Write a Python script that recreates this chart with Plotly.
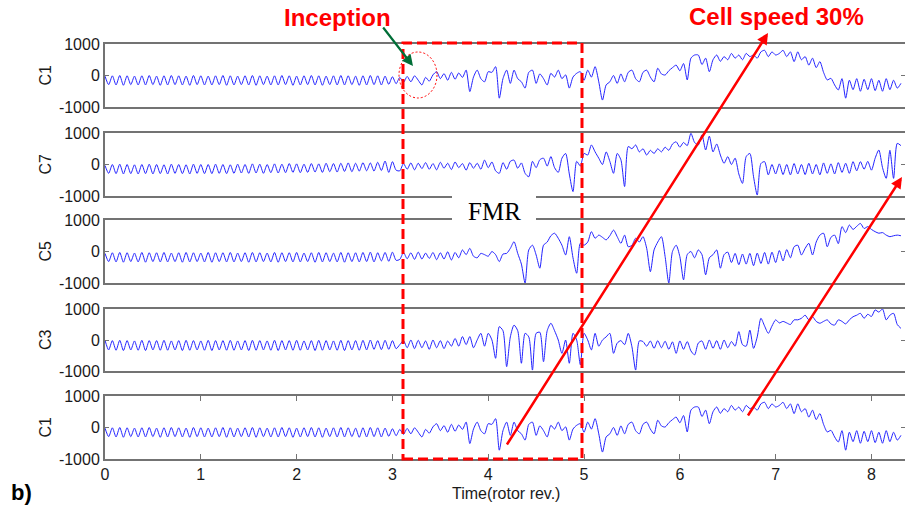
import numpy as np
import plotly.graph_objects as go

W, H = 905, 506

# ---------------- data (one sample per half cycle) -------------
samples_per_rev = 26

c1_reg = [-20,-290,-10,-300,0,-310,-10,-290,-20,-300,
          -10,-300,0,-290,-20,-310,-10,-300,0,-290,
          -10,-300,-20,-310,0,-290,-10,-300,-20,-300,
          -10,-290,0,-310,-10,-300,-20,-290,-10,-300,
          0,-310,-10,-290,-20,-300,-10,-300,0,-290,
          -10,-310,-20,-300,-10,-290,0,-300,-10,-310,
          -20,-290,-10,-300,0,-300,-10,-290,-20,-310,
          -10,-300,0,-290,-10,-300,-20,-280,-40,-260]
c1_irr = [-60,-220,-30,-200,-10,-150,-300,-60,-180,20,
          120,-100,60,-150,100,-120,80,-60,170,-510,
          -50,170,-100,-200,120,100,280,-720,-100,170,
          -250,170,-100,-200,-400,100,170,-250,50,-100,
          -300,70,-50,170,-100,20,-400,-50,70,120,
          -150,170,-50,280,-200,-780,-300,-200,0,-250,
          50,-200,100,170,-100,-200,100,170,-50,-200,
          230,50,15,150,250,330,150,380,-140,550,
          650,650,350,550,120,500,650,450,600,500,
          700,550,650,500,700,600,650,550,750,800,
          600,750,650,700,800,600,750,440,750,500,
          600,330,550,250,440,100,-140,-90,-300,-460,
          -100,-720,-150,-450,-100,-500,-120,-450,-100,-480,
          -150,-500,-100,-450,-150,-400,-250]

c7_reg = [-30,-280,0,-290,10,-300,0,-290,-10,-300,
          0,-290,10,-300,0,-290,-10,-300,10,-280,
          0,-290,-10,-300,10,-280,0,-290,0,-290,
          10,-280,0,-290,-10,-280,10,-270,0,-280,
          20,-270,10,-280,0,-260,20,-270,10,-260,
          30,-250,20,-260,10,-250,30,-240,20,-250,
          40,-230,30,-240,40,-220,50,-230,40,-210,
          60,-200,50,-210,70,-190,110,-250,90,-180]
c7_irr = [-200,30,-150,50,-170,40,-130,60,-150,30,
          -170,70,-120,40,-160,80,-100,30,-180,60,
          -120,40,-150,140,-100,80,-200,-280,60,-150,
          100,140,-120,50,-280,-390,100,-100,150,200,
          -50,250,-100,-250,200,350,-300,-860,100,-50,
          350,300,620,400,200,0,400,100,-280,350,
          150,-700,570,500,620,400,500,300,450,350,
          500,400,550,450,650,720,550,700,600,990,
          700,620,940,460,900,400,650,300,37,250,
          0,200,-300,-600,250,350,-390,-970,30,90,
          -330,0,-300,20,-320,0,-330,30,-300,0,
          -320,40,-300,0,-330,50,-280,20,-300,60,
          -250,40,-280,90,-200,90,-150,100,-180,200,
          460,-100,-440,450,-440,670,600]

c5_reg = [-60,-320,-40,-330,-30,-340,-40,-320,-50,-330,
          -30,-340,-40,-320,-40,-330,-30,-330,-50,-320,
          -40,-340,-30,-330,-40,-320,-50,-330,-30,-340,
          -40,-320,-40,-330,-30,-330,-50,-320,-40,-340,
          -30,-330,-40,-320,-50,-330,-30,-340,-40,-320,
          -40,-330,-30,-330,-50,-320,-40,-340,-30,-330,
          -40,-320,-50,-330,-30,-340,-40,-320,-40,-330,
          -30,-320,-20,-330,-40,-300,-30,-310,-20,-280]
c5_irr = [-250,-30,-230,-40,-250,-20,-240,-50,-220,-30,
          -260,-40,-240,-10,-270,-30,-200,50,-100,100,
          -150,-200,-60,-100,-150,0,-100,-320,-80,-60,
          100,310,-60,-400,-1000,50,200,-110,-530,200,
          300,500,580,420,200,-110,470,-200,-690,260,
          200,300,630,420,520,450,370,500,680,470,
          260,520,150,200,420,300,470,100,-640,50,
          300,470,-160,-1000,0,200,-160,-900,-100,0,
          -200,50,-100,-740,-200,-100,50,-530,-100,-20,
          -350,-60,-420,-80,-400,-60,-450,-50,-380,-30,
          -400,-20,-350,30,-300,60,-200,150,200,-110,
          100,260,-110,300,520,580,150,450,520,250,
          790,600,840,700,800,890,730,790,700,630,
          580,600,520,470,500,520,500]

c3_reg = [-10,-320,-20,-330,-10,-340,-20,-320,-30,-330,
          -10,-340,-20,-320,-20,-330,-10,-330,-30,-320,
          -20,-340,-10,-330,-20,-320,-30,-330,-10,-340,
          -20,-320,-20,-330,-10,-330,-30,-320,-20,-340,
          -10,-330,-20,-320,-30,-330,-10,-340,-20,-320,
          -20,-330,-10,-330,-30,-320,-20,-340,-10,-330,
          -20,-320,-30,-330,-10,-340,-20,-320,-20,-330,
          -10,-320,0,-300,-20,-310,-10,-300,-20,-280]
c3_irr = [-150,-20,-250,0,-280,-10,-250,-30,-300,0,
          -250,-20,-280,-30,-200,50,-200,110,-150,110,
          -250,0,215,-200,215,0,-590,430,300,-860,
          100,480,300,-750,215,100,-970,215,250,-700,
          300,540,300,0,-430,0,-750,215,0,-800,
          215,0,-320,215,-200,0,100,215,-430,-100,
          -20,-150,215,-220,-970,-30,-50,-200,-30,-270,
          -20,-250,-40,-300,-60,-430,-30,-300,-50,-350,
          -480,-100,-30,-300,0,-270,-20,-300,0,-250,
          -50,-200,270,-150,-200,320,-270,100,700,450,
          215,450,650,550,600,550,500,650,650,700,
          800,650,750,600,540,600,650,520,480,650,
          600,520,650,750,800,860,700,830,760,970,
          900,1000,650,800,860,500,375]

c1 = c1_reg + c1_irr
c7 = c7_reg + c7_irr
c5 = c5_reg + c5_irr
c3 = c3_reg + c3_irr

panel_labels = ["C1", "C7", "C5", "C3", "C1"]
panel_series = [c1, c7, c5, c3, c1]
x_ticks = [0, 1, 2, 3, 4, 5, 6, 7, 8]
y_ticks = [-1000, 0, 1000]
y_ticktext = ["-1000", "0", "1000"]
x_title = "Time(rotor rev.)"

# ---------------- layout geometry (pixels) ----------------
plot_left, plot_right = 105, 905
panels_px = [(44, 107), (133, 196), (220, 283), (309, 371), (396, 459)]
x_range = [0, 8.35]

FONT = "Arial, 'Liberation Sans', sans-serif"
AXCOL = "rgb(115,115,115)"
TXT = "#1a1a1a"

def px_x(p):
    return p / W

def px_y(p):
    return 1 - p / H

fig = go.Figure()
layout = dict(
    width=W, height=H, margin=dict(l=0, r=0, t=0, b=0, autoexpand=False),
    paper_bgcolor="white", plot_bgcolor="white", showlegend=False,
    font=dict(family=FONT, size=14, color=TXT),
)

n = len(panels_px)
for k, ((top, bot), vals) in enumerate(zip(panels_px, panel_series)):
    idx = k + 1
    xa = "x" if idx == 1 else f"x{idx}"
    ya = "y" if idx == 1 else f"y{idx}"
    t = np.arange(len(vals)) / samples_per_rev
    fig.add_trace(go.Scatter(x=t, y=vals, mode="lines", xaxis=xa, yaxis=ya,
                             line=dict(color="rgb(35,35,255)", width=1, shape="spline", smoothing=0.7),
                             hoverinfo="skip"))
    last = (k == n - 1)
    xkey = "xaxis" if idx == 1 else f"xaxis{idx}"
    ykey = "yaxis" if idx == 1 else f"yaxis{idx}"
    layout[xkey] = dict(
        domain=[px_x(plot_left), px_x(plot_right)], range=x_range, anchor=ya,
        showline=True, linecolor=AXCOL, linewidth=2, automargin=False,
        mirror="ticks" if last else True,
        ticks="inside" if last else "", ticklen=5, tickcolor=AXCOL,
        tickvals=x_ticks, showticklabels=last, showgrid=False, zeroline=False,
        tickfont=dict(size=16, color=TXT, family=FONT),
    )
    layout[ykey] = dict(
        domain=[px_y(bot), px_y(top)], range=[-1000, 1000], anchor=xa,
        showline=True, linecolor=AXCOL, linewidth=2, mirror="ticks", automargin=False,
        ticks="inside", ticklen=4, tickcolor=AXCOL,
        tickvals=y_ticks, ticktext=y_ticktext, showgrid=False, zeroline=False,
        tickfont=dict(size=16, color=TXT, family=FONT),
    )

annotations = []
for (top, bot), lab in zip(panels_px, panel_labels):
    annotations.append(dict(x=px_x(45), y=px_y((top + bot) / 2), xref="paper", yref="paper",
                            text=lab, showarrow=False, textangle=-90,
                            font=dict(size=16, color=TXT, family=FONT),
                            xanchor="center", yanchor="middle"))

# text labels
annotations += [
    dict(x=px_x(506), y=px_y(493), xref="paper", yref="paper", text=x_title,
         showarrow=False, font=dict(size=16, color=TXT, family=FONT), xanchor="center", yanchor="middle"),
    dict(x=px_x(337), y=px_y(17), xref="paper", yref="paper", text="<b>Inception</b>",
         showarrow=False, font=dict(size=24, color="red", family=FONT), xanchor="center", yanchor="middle"),
    dict(x=px_x(776), y=px_y(16), xref="paper", yref="paper", text="<b>Cell speed 30%</b>",
         showarrow=False, font=dict(size=24, color="red", family=FONT), xanchor="center", yanchor="middle"),
    dict(x=px_x(494), y=px_y(211), xref="paper", yref="paper", text="FMR",
         showarrow=False, font=dict(size=25, color="black", family="'Liberation Serif', 'DejaVu Serif', serif"),
         xanchor="center", yanchor="middle"),
    dict(x=px_x(21), y=px_y(492), xref="paper", yref="paper", text="<b>b)</b>",
         showarrow=False, font=dict(size=22, color="black", family=FONT), xanchor="center", yanchor="middle"),
    # arrows
    dict(x=px_x(413), y=px_y(66), xref="paper", yref="paper", text="", showarrow=True,
         ax=-31, ay=-40, arrowhead=2, arrowsize=1, arrowwidth=2.2, arrowcolor="rgb(0,110,55)"),
    dict(x=px_x(768), y=px_y(33), xref="paper", yref="paper", text="", showarrow=True,
         ax=-262, ay=413, arrowhead=2, arrowsize=0.9, arrowwidth=2.5, arrowcolor="red"),
    dict(x=px_x(902), y=px_y(177), xref="paper", yref="paper", text="", showarrow=True,
         ax=-155, ay=240, arrowhead=2, arrowsize=0.9, arrowwidth=2.5, arrowcolor="red"),
]
layout["annotations"] = annotations

shapes = [
    # white box behind FMR label
    dict(type="rect", xref="paper", yref="paper", x0=px_x(452), x1=px_x(536), y0=px_y(225), y1=px_y(193),
         fillcolor="white", line=dict(width=0), layer="above"),
    # dashed FMR window
    dict(type="rect", xref="paper", yref="paper", x0=px_x(403), x1=px_x(582), y0=px_y(459), y1=px_y(43),
         line=dict(color="red", width=3, dash="10px,5px"), fillcolor="rgba(0,0,0,0)", layer="above"),
    # dotted circle at inception
    dict(type="circle", xref="paper", yref="paper", x0=px_x(399), x1=px_x(437), y0=px_y(98), y1=px_y(52),
         line=dict(color="red", width=1, dash="2px,2px"), layer="above"),
]
layout["shapes"] = shapes

fig.update_layout(**layout)
fig.write_html("out.html")
